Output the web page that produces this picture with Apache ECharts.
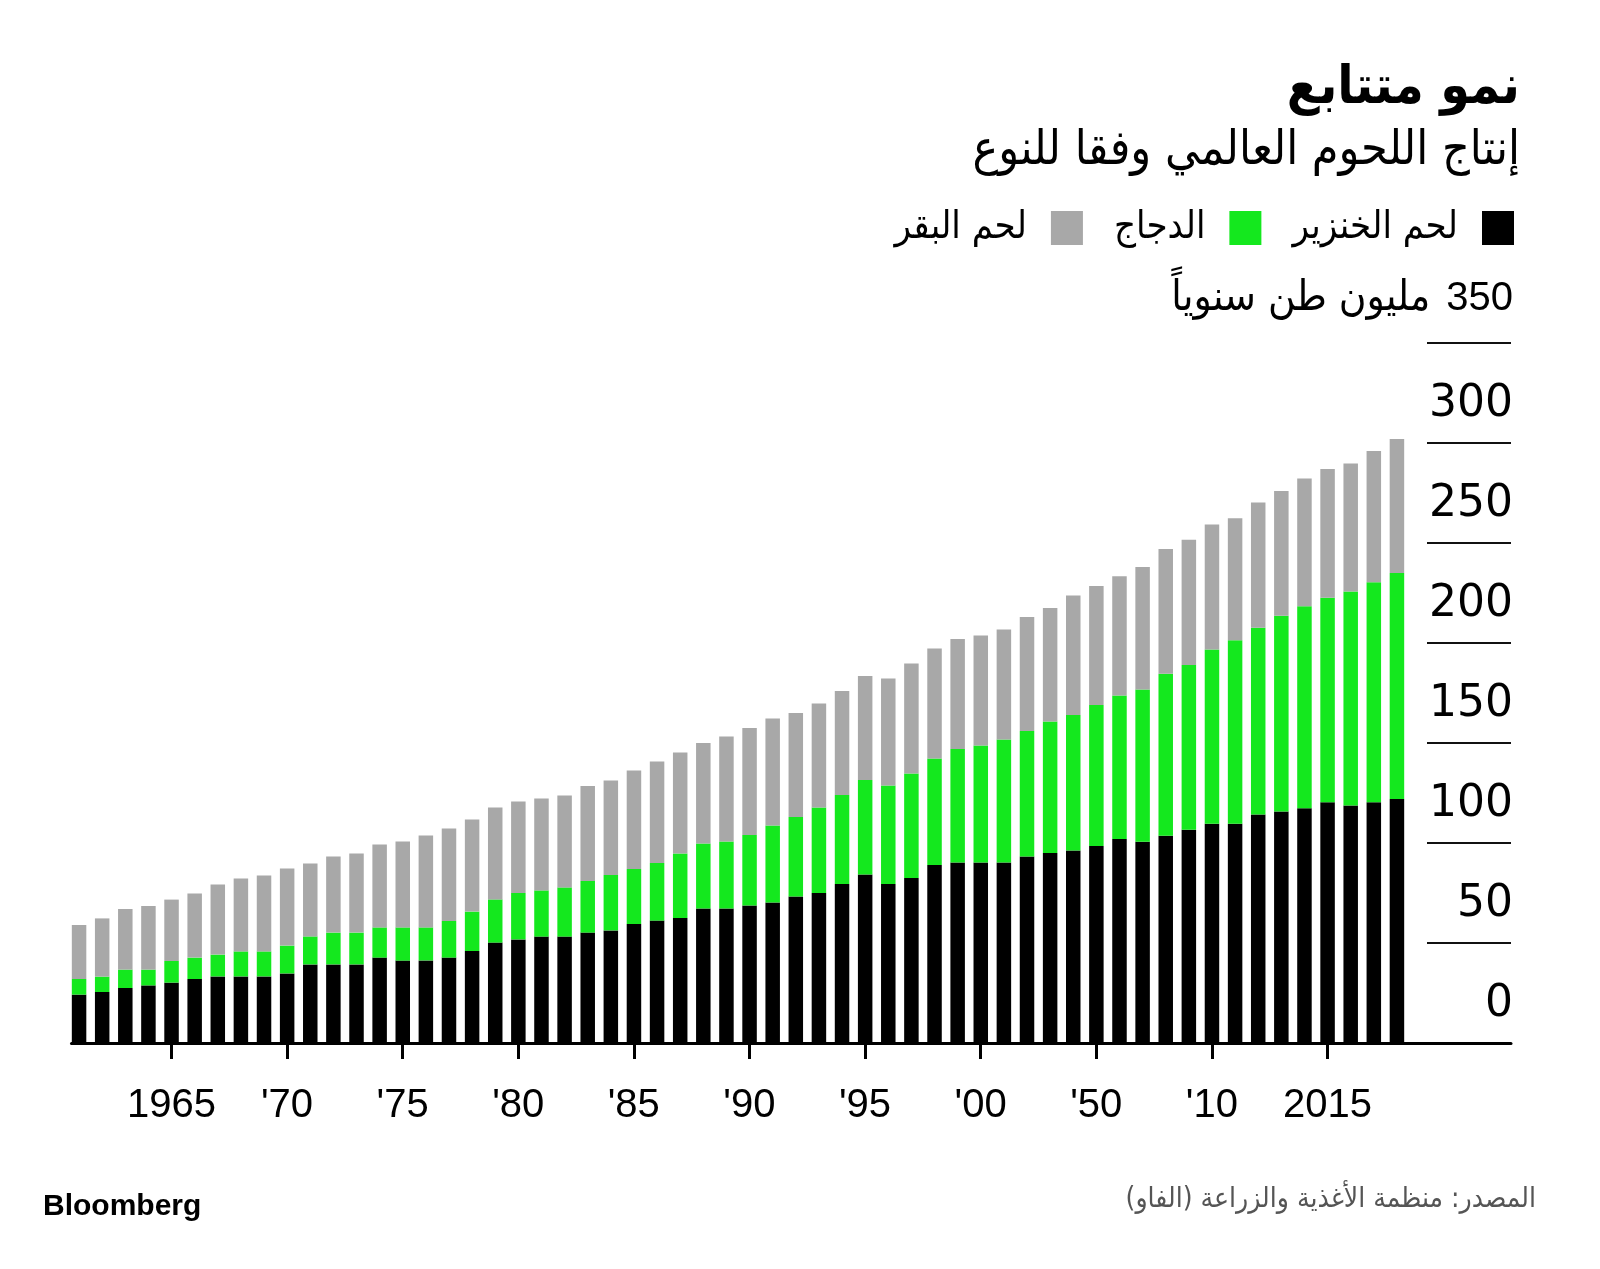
<!DOCTYPE html>
<html dir="ltr">
<head>
<meta charset="utf-8">
<script src="https://cdn.jsdelivr.net/npm/echarts@6/dist/echarts.min.js"></script>
<style>
html,body{margin:0;padding:0;background:#fff;}
#chart{width:1600px;height:1269px;}
</style>
</head>
<body>
<div id="chart"></div>
<script>
// ---- data (million tonnes per year) ----
const years = [1961,1962,1963,1964,1965,1966,1967,1968,1969,1970,
  1971,1972,1973,1974,1975,1976,1977,1978,1979,1980,
  1981,1982,1983,1984,1985,1986,1987,1988,1989,1990,
  1991,1992,1993,1994,1995,1996,1997,1998,1999,2000,
  2001,2002,2003,2004,2005,2006,2007,2008,2009,2010,
  2011,2012,2013,2014,2015,2016,2017,2018];
const pork = [24.2,25.5,27.5,28.8,30.2,32.0,33.3,33.3,33.3,34.8,
  39.3,39.3,39.3,42.7,41.2,41.3,42.7,46.0,50.2,51.8,
  53.2,53.2,55.2,56.3,59.5,61.2,62.5,67.2,67.2,68.7,
  70.3,73.3,75.0,79.5,84.2,79.5,82.5,89.0,90.3,90.3,
  90.3,93.3,95.0,96.3,98.5,102.0,100.6,103.6,106.6,109.6,
  109.6,114.2,115.8,117.4,120.4,118.8,120.4,122.0];
const chicken = [7.8,7.7,9.2,7.9,10.8,10.7,10.9,12.5,12.5,13.9,
  14.0,15.9,15.9,15.1,16.6,16.5,18.3,19.7,21.6,23.2,
  23.1,24.6,25.8,27.7,27.5,28.8,32.2,32.5,33.6,35.3,
  38.4,39.7,42.8,44.5,47.3,49.2,52.3,53.3,56.7,58.4,
  61.4,62.7,65.8,67.7,70.5,71.8,76.2,81.0,82.4,87.2,
  91.8,93.4,97.8,101.0,102.2,107.0,110.0,113.0];
const beef = [27.0,29.1,30.3,31.8,30.7,32.1,35.1,36.4,38.0,38.5,
  36.5,38.0,39.5,41.5,43.0,46.0,46.2,46.1,45.9,45.8,
  45.9,46.0,47.5,47.3,49.2,50.7,50.5,50.3,52.4,53.5,
  53.5,52.0,51.9,52.0,52.0,53.5,54.9,54.9,55.0,55.0,
  55.0,57.0,56.7,59.7,59.5,59.6,61.2,62.4,62.6,62.4,
  61.0,62.6,62.4,63.8,64.4,64.0,65.6,67.0];
const seriesNames = ['لحم الخنزير','الدجاج','لحم البقر'];
const tickYears = [1965,1970,1975,1980,1985,1990,1995,2000,2005,2010,2015];
const tickLabels = ['1965',"'70","'75","'80","'85","'90","'95","'00","'50","'10",'2015'];
const titleText = 'نمو متتابع';
const subtitleText = 'إنتاج اللحوم العالمي وفقا للنوع';
const unitText = 'مليون طن سنوياً';
const sourceText = 'المصدر: منظمة الأغذية والزراعة (الفاو)\u200F';
const colors = ['#000000','#14e81e','#a8a8a8'];

const FONT_AR = '"DejaVu Sans Condensed", "DejaVu Sans", sans-serif';
const FONT_NUM = '"Liberation Sans", Arial, sans-serif';
const FONT_Y = '"DejaVu Sans", sans-serif';

const chart = echarts.init(document.getElementById('chart'), null, {renderer:'canvas'});
const valueSets = [pork, chicken, beef];

const option = {
  animation: false,
  backgroundColor: '#ffffff',
  title: [
    {text: titleText, right: 80, top: 63, padding: 0,
     textStyle: {fontFamily: FONT_AR, fontWeight: 'bold', fontSize: 53, color: '#000'}},
    {text: subtitleText, right: 80, top: 128, padding: 0,
     textStyle: {fontFamily: FONT_AR, fontWeight: 'normal', fontSize: 48, color: '#000'}},
    {text: sourceText, right: 64, top: 1186, padding: 0,
     textStyle: {fontFamily: FONT_AR, fontWeight: 'normal', fontSize: 28, color: '#555'}},
    {text: 'Bloomberg', left: 43, top: 1192, padding: 0,
     textStyle: {fontFamily: FONT_NUM, fontWeight: 'bold', fontSize: 30, color: '#000'}}
  ],
  legend: {
    data: [seriesNames[2], seriesNames[1], seriesNames[0]],
    right: 86, top: 209, padding: 0,
    align: 'right', icon: 'rect', itemWidth: 32, itemHeight: 34, itemGap: 31,
    selectedMode: false,
    textStyle: {fontFamily: FONT_AR, fontSize: 38, color: '#000', lineHeight: 34, padding: [0, 19, 0, 0]}
  },
  grid: [
    {left: 67.5, right: 191.5, top: 343, bottom: 226},   // bars
    {left: 71.5, right: 89, top: 343, bottom: 226},      // visible x axis
    {left: 1427, right: 89, top: 343, bottom: 226}       // y gridlines + labels
  ],
  xAxis: [
    {type: 'category', gridIndex: 0, data: years, boundaryGap: true,
     axisLine: {show: false}, axisTick: {show: false}, axisLabel: {show: false}, splitLine: {show: false}},
    {type: 'value', gridIndex: 1, min: 1960.68, max: 2022.94,
     axisLine: {show: true, onZero: false, lineStyle: {color: '#000', width: 3}},
     axisTick: {show: true, customValues: tickYears, length: 16, lineStyle: {color: '#000', width: 3}},
     axisLabel: {show: true, customValues: tickYears, margin: 43,
       formatter: function (v) { const k = tickYears.indexOf(Math.round(v)); return k >= 0 ? tickLabels[k] : ''; },
       fontFamily: FONT_NUM, fontSize: 40, color: '#000'},
     splitLine: {show: false}},
    {type: 'value', gridIndex: 2, min: 0, max: 1, show: false}
  ],
  yAxis: [
    {type: 'value', gridIndex: 0, min: 0, max: 350, interval: 50, show: false},
    {type: 'value', gridIndex: 1, min: 0, max: 350, interval: 50, show: false},
    {type: 'value', gridIndex: 2, min: 0, max: 350, interval: 50, position: 'right',
     axisLine: {show: false}, axisTick: {show: false},
     splitLine: {show: true, lineStyle: {color: '#111', width: 2}},
     axisLabel: {inside: true, align: 'right', verticalAlign: 'bottom', margin: -2,
       formatter: function (v) {
         if (v === 350) return '{ar|' + unitText + '}{n|350}';
         return '{v|' + v + '}';
       },
       rich: {
         v: {fontFamily: FONT_Y, fontSize: 44, color: '#000', lineHeight: 77},
         ar: {fontFamily: FONT_AR, fontSize: 42, color: '#000', lineHeight: 88},
         n: {fontFamily: FONT_NUM, fontSize: 40, color: '#000', lineHeight: 88, padding: [0, 0, 0, 16]}
       }}}
  ],
  series: valueSets.map(function (vals, s) {
    return {
      type: 'bar', name: seriesNames[s], stack: 'meat',
      xAxisIndex: 0, yAxisIndex: 0, barWidth: 14.5,
      itemStyle: {color: colors[s]},
      data: vals
    };
  })
};
chart.setOption(option);
</script>
</body>
</html>
